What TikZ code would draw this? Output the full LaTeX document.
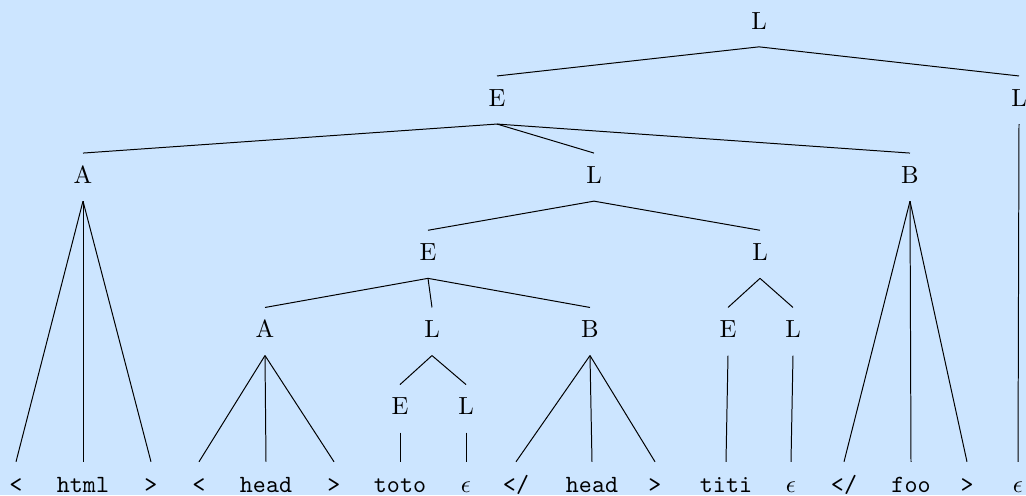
\documentclass[tikz,border=0pt]{standalone}
\definecolor{bgblue}{RGB}{204,229,255}
\begin{document}
\begin{tikzpicture}[x=0.40351pt,y=-0.40351pt,
  tn/.style={inner sep=0pt, text height=12pt, text depth=7pt, anchor=base},
  edge/.style={draw=black, line width=0.4pt}]
\fill[bgblue] (0,0) rectangle (1026,495);
\useasboundingbox (0,0) rectangle (1026,495);
% levels
\def\ya{29}\def\yb{106.2}\def\yc{183.3}\def\yd{260.5}\def\ye{337.7}\def\yf{414.8}\def\yg{492}
\node[tn] (r) at (759,\ya) {L};
\node[tn] (e1) at (497,\yb) {E};
\node[tn] (l1) at (1019,\yb) {L};
\node[tn] (a2) at (83,\yc) {A};
\node[tn] (l2) at (594,\yc) {L};
\node[tn] (b2) at (910,\yc) {B};
\node[tn] (e3) at (428,\yd) {E};
\node[tn] (l3) at (760,\yd) {L};
\node[tn] (a4) at (265,\ye) {A};
\node[tn] (l4) at (432,\ye) {L};
\node[tn] (b4) at (590,\ye) {B};
\node[tn] (e4) at (728,\ye) {E};
\node[tn] (l4b) at (793,\ye) {L};
\node[tn] (e5) at (400,\yf) {E};
\node[tn] (l5) at (466,\yf) {L};
% leaves
\node[tn] (t1) at (16,\yg) {\texttt{<}};
\node[tn] (t2) at (83,\yg) {\texttt{html}};
\node[tn] (t3) at (151,\yg) {\texttt{>}};
\node[tn] (t4) at (199,\yg) {\texttt{<}};
\node[tn] (t5) at (266,\yg) {\texttt{head}};
\node[tn] (t6) at (334,\yg) {\texttt{>}};
\node[tn] (t7) at (400,\yg) {\texttt{toto}};
\node[tn] (t8) at (466,\yg) {$\epsilon$};
\node[tn] (t9) at (516,\yg) {\texttt{</}};
\node[tn] (t10) at (592,\yg) {\texttt{head}};
\node[tn] (t11) at (655,\yg) {\texttt{>}};
\node[tn] (t12) at (726,\yg) {\texttt{titi}};
\node[tn] (t13) at (791,\yg) {$\epsilon$};
\node[tn] (t14) at (844,\yg) {\texttt{</}};
\node[tn] (t15) at (911,\yg) {\texttt{foo}};
\node[tn] (t16) at (967,\yg) {\texttt{>}};
\node[tn] (t17) at (1018,\yg) {$\epsilon$};
% edges
\foreach \p/\c in {r/e1, r/l1, e1/a2, e1/l2, e1/b2, l1/t17,
  a2/t1, a2/t2, a2/t3, l2/e3, l2/l3, b2/t14, b2/t15, b2/t16,
  e3/a4, e3/l4, e3/b4, l3/e4, l3/l4b,
  a4/t4, a4/t5, a4/t6, l4/e5, l4/l5, b4/t9, b4/t10, b4/t11,
  e4/t12, l4b/t13, e5/t7, l5/t8}
  \draw[edge] (\p.south) -- (\c.north);
\end{tikzpicture}
\end{document}
